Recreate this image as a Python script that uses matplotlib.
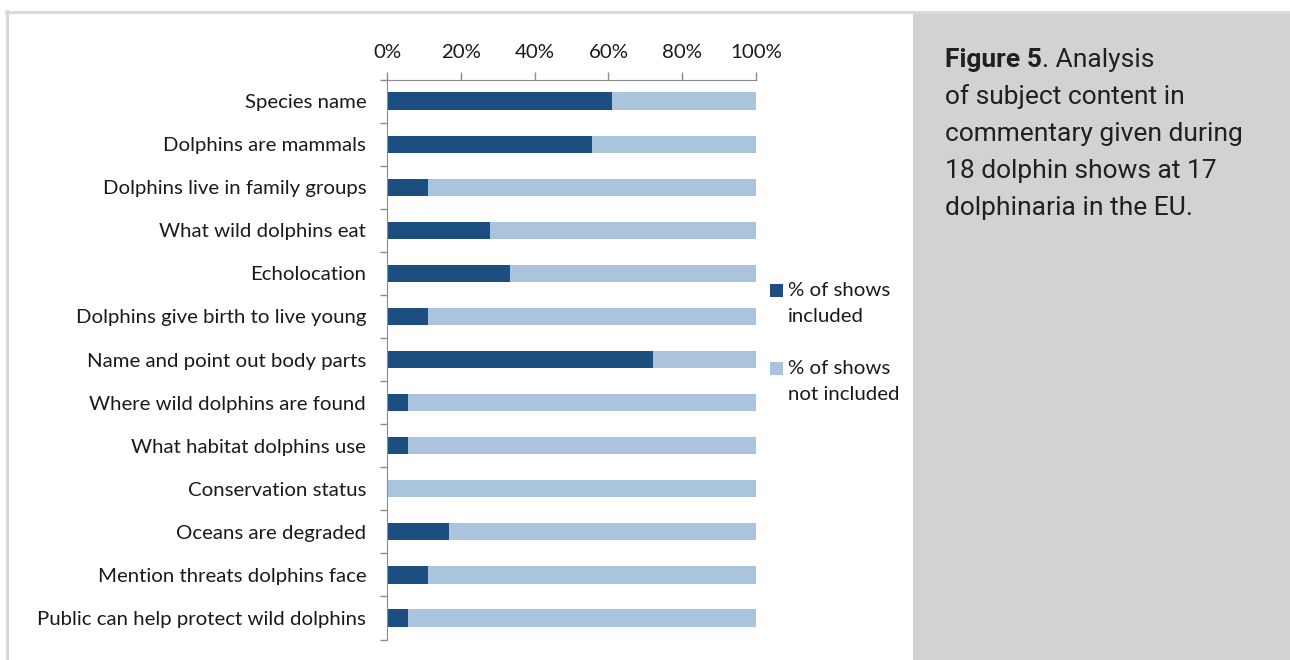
import matplotlib
matplotlib.use("Agg")
import matplotlib.pyplot as plt
from matplotlib.patches import Rectangle
from matplotlib.lines import Line2D

categories = [
    "Species name",
    "Dolphins are mammals",
    "Dolphins live in family groups",
    "What wild dolphins eat",
    "Echolocation",
    "Dolphins give birth to live young",
    "Name and point out body parts",
    "Where wild dolphins are found",
    "What habitat dolphins use",
    "Conservation status",
    "Oceans are degraded",
    "Mention threats dolphins face",
    "Public can help protect wild dolphins",
]
included = [61.1, 55.6, 11.1, 27.8, 33.3, 11.1, 72.2, 5.6, 5.6, 0.0, 16.7, 11.1, 5.6]
not_included = [100 - v for v in included]
series_labels = ["% of shows\nincluded", "% of shows\nnot included"]
xtick_values = [0, 20, 40, 60, 80, 100]
xtick_labels = ["0%", "20%", "40%", "60%", "80%", "100%"]
caption_bold = "Figure 5"
caption_rest = ". Analysis\nof subject content in\ncommentary given during\n18 dolphin shows at 17\ndolphinaria in the EU."

DARK = "#1c4f80"
LIGHT = "#aac4de"
AXIS = "#8c8c8c"
TEXT = "#1a1a1a"
LABEL_FONT = ["Lato", "DejaVu Sans"]
CAP_FONT = ["Roboto", "DejaVu Sans"]
LFS = 14.7
CFS = 19.0

W, H = 1290, 660
fig = plt.figure(figsize=(W / 100, H / 100), dpi=100)
fig.patch.set_facecolor("white")

def fx(x):
    return x / W

def fy(y):
    return 1 - y / H

# outer frame lines (light gray)
fig.add_artist(Line2D([fx(6), fx(1290)], [fy(11.5), fy(11.5)], color="#d9d9d9", lw=2.2, transform=fig.transFigure))
fig.add_artist(Line2D([fx(6.5), fx(6.5)], [fy(11), fy(660)], color="#d9d9d9", lw=2.2, transform=fig.transFigure))
# gray caption panel
fig.add_artist(Rectangle((fx(913), 0), fx(1290) - fx(913), fy(12), facecolor="#d1d2d4",
                         edgecolor="none", transform=fig.transFigure))

left, right, top, bottom = 387, 756, 79.5, 639.5
ax = fig.add_axes([fx(left), fy(bottom), fx(right) - fx(left), fy(top) - fy(bottom)])
ax.set_facecolor("none")

n = len(categories)
ypos = list(range(n))
bh = 0.40
b1 = ax.barh(ypos, included, height=bh, color=DARK, label=series_labels[0])
b2 = ax.barh(ypos, not_included, left=included, height=bh, color=LIGHT, label=series_labels[1])

ax.set_xlim(0, 100)
ax.set_ylim(n - 0.5, -0.5)

ax.xaxis.tick_top()
ax.set_xticks(xtick_values)
ax.set_xticklabels(xtick_labels, fontsize=LFS, color=TEXT, family=LABEL_FONT)
ax.tick_params(axis="x", direction="out", length=6, width=1, color=AXIS, pad=7.5)

ax.set_yticks(ypos)
ax.set_yticklabels(categories, fontsize=LFS, color=TEXT, family=LABEL_FONT)
ax.tick_params(axis="y", which="major", length=0, pad=15)
ax.set_yticks([i - 0.5 for i in range(n + 1)], minor=True)
ax.tick_params(axis="y", which="minor", length=5, width=1, color=AXIS, direction="out")

for s in ["right", "bottom"]:
    ax.spines[s].set_visible(False)
ax.spines["left"].set_color(AXIS)
ax.spines["top"].set_color(AXIS)
ax.spines["top"].set_bounds(-1.2, 100)

# legend (drawn manually so the swatch aligns with the first text line)
legend_rows = [(b1, 290), (b2, 368)]
for (bars, ly), label in zip(legend_rows, series_labels):
    col = bars.patches[0].get_facecolor()
    fig.add_artist(Rectangle((fx(770), fy(ly + 6.5)), fx(13), 13 / H, facecolor=col,
                             edgecolor="none", transform=fig.transFigure))
    first, second = label.split("\n")
    fig.text(fx(788), fy(ly), first, fontsize=LFS, family=LABEL_FONT, color=TEXT,
             va="center", ha="left")
    fig.text(fx(788), fy(ly + 27), second, fontsize=LFS, family=LABEL_FONT, color=TEXT,
             va="center", ha="left")

# caption
cap_x = fx(945)
tmp = fig.text(cap_x, fy(60), caption_bold, fontsize=CFS, fontweight="bold", family=CAP_FONT,
               color="#231f20", va="center", ha="left")
fig.canvas.draw()
bold_w = tmp.get_window_extent().width / W
rest_lines = caption_rest.split("\n")
fig.text(cap_x + bold_w, fy(60), rest_lines[0], fontsize=CFS, family=CAP_FONT,
         color="#231f20", va="center", ha="left")
for i, line in enumerate(rest_lines[1:], start=1):
    fig.text(cap_x, fy(60 + 37 * i), line, fontsize=CFS, family=CAP_FONT,
             color="#231f20", va="center", ha="left")

fig.savefig("out.png", dpi=100)
